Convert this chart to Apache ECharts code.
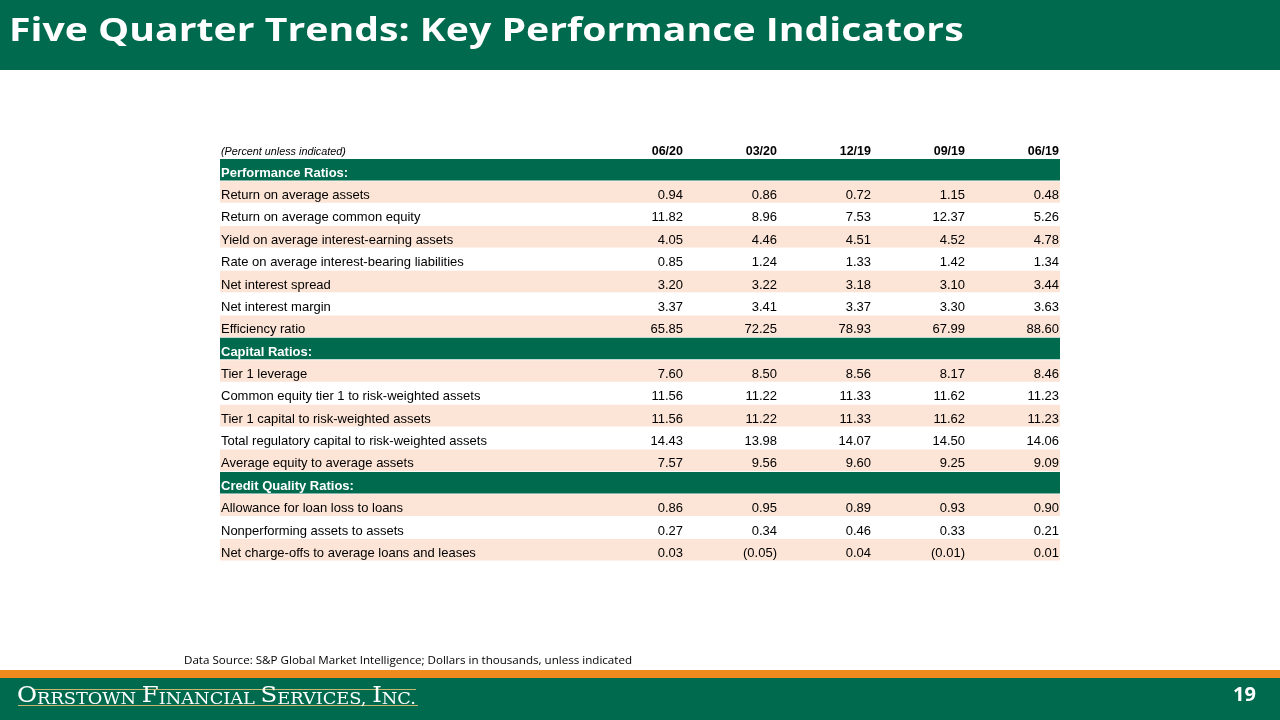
<!DOCTYPE html>
<html><head><meta charset="utf-8">
<script src="https://cdn.jsdelivr.net/npm/echarts@6/dist/echarts.min.js"></script>
<style>html,body{margin:0;padding:0;background:#fff}#c{width:1280px;height:720px}</style>
</head><body><div id="c"></div>
<script>
// ---------- data ----------
const quarters = ['06/20', '03/20', '12/19', '09/19', '06/19'];
const sections = ['Performance Ratios:', 'Capital Ratios:', 'Credit Quality Ratios:'];
const performanceRows = ['Return on average assets', 'Return on average common equity',
  'Yield on average interest-earning assets', 'Rate on average interest-bearing liabilities',
  'Net interest spread', 'Net interest margin', 'Efficiency ratio'];
const capitalRows = ['Tier 1 leverage', 'Common equity tier 1 to risk-weighted assets',
  'Tier 1 capital to risk-weighted assets', 'Total regulatory capital to risk-weighted assets',
  'Average equity to average assets'];
const creditRows = ['Allowance for loan loss to loans', 'Nonperforming assets to assets',
  'Net charge-offs to average loans and leases'];
// values per quarter, in row order (performance, capital, credit)
const q0620 = [0.94, 11.82, 4.05, 0.85, 3.20, 3.37, 65.85, 7.60, 11.56, 11.56, 14.43, 7.57, 0.86, 0.27, 0.03];
const q0320 = [0.86, 8.96, 4.46, 1.24, 3.22, 3.41, 72.25, 8.50, 11.22, 11.22, 13.98, 9.56, 0.95, 0.34, -0.05];
const q1219 = [0.72, 7.53, 4.51, 1.33, 3.18, 3.37, 78.93, 8.56, 11.33, 11.33, 14.07, 9.60, 0.89, 0.46, 0.04];
const q0919 = [1.15, 12.37, 4.52, 1.42, 3.10, 3.30, 67.99, 8.17, 11.62, 11.62, 14.50, 9.25, 0.93, 0.33, -0.01];
const q0619 = [0.48, 5.26, 4.78, 1.34, 3.44, 3.63, 88.60, 8.46, 11.23, 11.23, 14.06, 9.09, 0.90, 0.21, 0.01];
const quarterValues = [q0620, q0320, q1219, q0919, q0619];

// ---------- build table structure ----------
const groups = [performanceRows, capitalRows, creditRows];
const rowLabels = [], rowKind = [], rowMetric = [];
let m = 0;
groups.forEach((g, gi) => {
  rowLabels.push(sections[gi]); rowKind.push('section'); rowMetric.push(-1);
  g.forEach((lab, i) => {
    rowLabels.push(lab); rowKind.push(i % 2 === 0 ? 'peach' : 'white'); rowMetric.push(m++);
  });
});
const bgData = rowLabels.map((l, r) => [0, r, rowKind[r]]);
const cellData = [];
quarterValues.forEach((arr, c) => {
  rowMetric.forEach((mi, r) => { if (mi >= 0) cellData.push([c, r, arr[mi]]); });
});
const headData = quarters.map((q, c) => [c, 0, q]);

function fmt(v) { return v < 0 ? '(' + Math.abs(v).toFixed(2) + ')' : v.toFixed(2); }

const GREEN = '#006A4E', PEACH = '#FCE4D6', ORANGE = '#EF8A1E';
const LABEL_COL = 370;
const TEXT_DY = 3.5;
const FONT = '"Liberation Sans", Arial, sans-serif';

const chart = echarts.init(document.getElementById('c'), null, { renderer: 'canvas' });
chart.setOption({
  animation: false,
  backgroundColor: '#ffffff',
  title: {
    text: '(Percent unless indicated)', left: 221, top: 146, padding: 0,
    textStyle: { fontFamily: FONT, fontStyle: 'italic', fontWeight: 'normal', fontSize: 10.8, color: '#000' }
  },
  grid: { left: 590, right: 220, top: 158.5, height: 402.5 },
  xAxis: {
    type: 'category', data: quarters, position: 'top',
    axisLine: { show: false }, axisTick: { show: false }, axisLabel: { show: false }, splitLine: { show: false }
  },
  yAxis: {
    type: 'category', data: rowLabels, inverse: true, z: 10,
    axisLine: { show: false }, axisTick: { show: false }, splitLine: { show: false },
    axisLabel: {
      align: 'left', margin: 369, fontFamily: FONT, fontSize: 13, color: '#000',
      padding: [TEXT_DY * 2, 0, 0, 0],
      formatter: (v, i) => rowKind[i] === 'section' ? '{s|' + v + '}' : v,
      rich: { s: { fontFamily: FONT, fontSize: 13, fontWeight: 'bold', color: '#fff' } }
    }
  },
  series: [
    {
      type: 'custom', z: 1, data: bgData, silent: true,
      renderItem: function (params, api) {
        const kind = bgData[params.dataIndex][2];
        if (kind === 'white') return null;
        const p = api.coord([0, api.value(1)]);
        const sz = api.size([1, 1]);
        const cs = params.coordSys;
        return {
          type: 'rect',
          shape: { x: cs.x - LABEL_COL, y: p[1] - sz[1] / 2 + 0.4, width: cs.width + LABEL_COL, height: sz[1] - 0.8 },
          style: { fill: kind === 'section' ? GREEN : PEACH }
        };
      }
    },
    {
      type: 'custom', z: 3, data: cellData, silent: true,
      renderItem: function (params, api) {
        const p = api.coord([api.value(0), api.value(1)]);
        const sz = api.size([1, 1]);
        return {
          type: 'text', z2: 10,
          style: {
            x: p[0] + sz[0] / 2 - 1, y: p[1] + TEXT_DY, text: fmt(cellData[params.dataIndex][2]),
            align: 'right', verticalAlign: 'middle', font: '13px ' + FONT, fill: '#000'
          }
        };
      }
    },
    {
      type: 'custom', z: 3, data: headData, silent: true,
      renderItem: function (params, api) {
        const p = api.coord([api.value(0), 0]);
        const sz = api.size([1, 1]);
        return {
          type: 'text',
          style: {
            x: p[0] + sz[0] / 2 - 1, y: p[1] - sz[1] / 2 - 7, text: headData[params.dataIndex][2],
            align: 'right', verticalAlign: 'middle', font: 'bold 12.5px ' + FONT, fill: '#000'
          }
        };
      }
    }
  ],
  graphic: [
    { type: 'rect', z: -1, shape: { x: 0, y: 0, width: 1280, height: 70 }, style: { fill: GREEN } },
    { type: 'text', x: 9, y: 31.5, scaleX: 1.225, style: { text: 'Five Quarter Trends: Key Performance Indicators', font: 'bold 32px "Open Sans", Lato, sans-serif', fill: '#fff', align: 'left', verticalAlign: 'middle' } },
    { type: 'text', left: 184, top: 655, style: { text: 'Data Source: S&P Global Market Intelligence; Dollars in thousands, unless indicated', font: '11.6px "Open Sans", Lato, sans-serif', fill: '#000' } },
    { type: 'rect', z: -1, shape: { x: 0, y: 670, width: 1280, height: 8 }, style: { fill: ORANGE } },
    { type: 'rect', z: -1, shape: { x: 0, y: 678, width: 1280, height: 42 }, style: { fill: GREEN } },
    { type: 'line', shape: { x1: 32, y1: 689.5, x2: 416, y2: 689.5 }, style: { stroke: '#C8B772', lineWidth: 1 } },
    { type: 'line', shape: { x1: 18, y1: 705.5, x2: 418, y2: 705.5 }, style: { stroke: '#C8B772', lineWidth: 1 } },
    {
      type: 'text', x: 17, y: 707.5, scaleX: 1.11,
      style: {
        text: '{b|O}{s|RRSTOWN }{b|F}{s|INANCIAL }{b|S}{s|ERVICES, }{b|I}{s|NC.}',
        align: 'left', verticalAlign: 'bottom',
        rich: {
          b: { font: '22px "DejaVu Serif", "Liberation Serif", serif', fill: '#fff', verticalAlign: 'bottom' },
          s: { font: '16px "DejaVu Serif", "Liberation Serif", serif', fill: '#fff', verticalAlign: 'bottom' }
        }
      }
    },
    { type: 'text', left: 1233, top: 685, style: { text: '19', font: 'bold 20px "Open Sans", Lato, sans-serif', fill: '#fff' } }
  ]
});
</script></body></html>
